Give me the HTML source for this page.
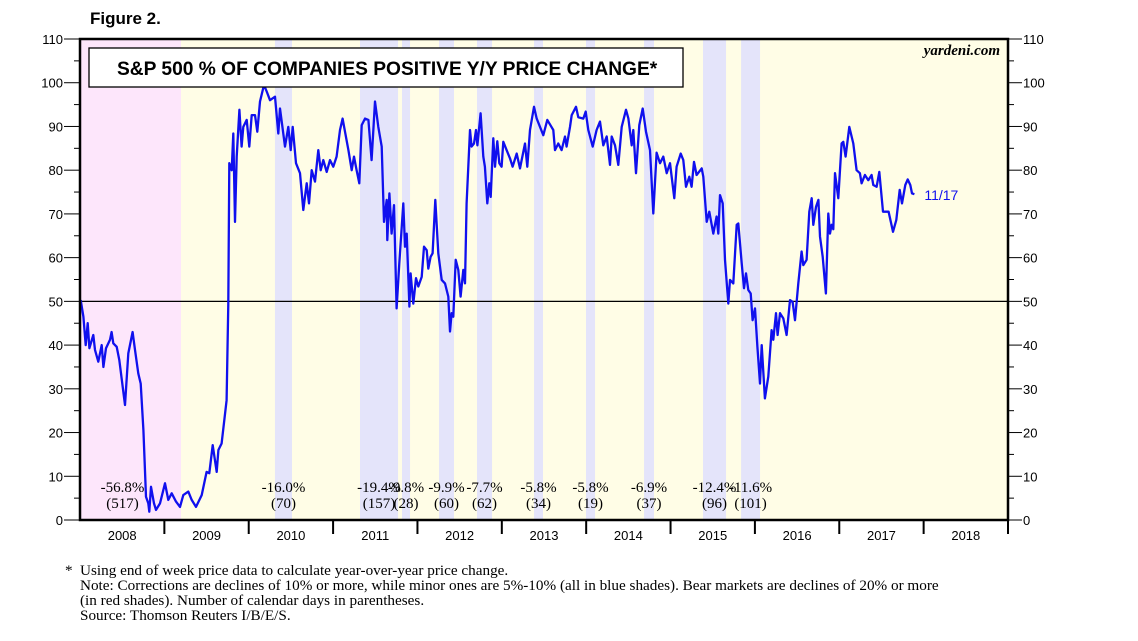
<!DOCTYPE html>
<html><head><meta charset="utf-8"><style>
body{margin:0;background:#fff;width:1138px;height:641px;overflow:hidden;font-family:"Liberation Sans",sans-serif}
.fn{position:absolute;left:80px;font-family:"Liberation Serif",serif;font-size:15.2px;color:#000;white-space:nowrap;line-height:15px}
</style></head><body>
<div style="position:absolute;left:90px;top:9px;font-weight:bold;font-size:17px">Figure 2.</div>
<svg id="chart" width="1138" height="560" style="position:absolute;left:0;top:0"></svg>
<div class="fn" style="left:65px;top:563px">*</div>
<div class="fn" style="top:563px">Using end of week price data to calculate year-over-year price change.</div>
<div class="fn" style="top:578px">Note: Corrections are declines of 10% or more, while minor ones are 5%-10% (all in blue shades). Bear markets are declines of 20% or more</div>
<div class="fn" style="top:593px">(in red shades). Number of calendar days in parentheses.</div>
<div class="fn" style="top:608px">Source: Thomson Reuters I/B/E/S.</div>
<script>
// data (dates as years since 2008)
const yearLabels=["2008","2009","2010","2011","2012","2013","2014","2015","2016","2017","2018"];
const yTicks=[0,10,20,30,40,50,60,70,80,90,100,110];
const bearStart=[0.0], bearEnd=[1.197];
const corrStart=[2.311,3.319,3.817,4.256,4.706,5.382,5.998,6.686,7.385,7.836];
const corrEnd=[2.513,3.770,3.912,4.433,4.884,5.488,6.105,6.804,7.658,8.061];
const corrPct=["-16.0%","-19.4%","-9.8%","-9.9%","-7.7%","-5.8%","-5.8%","-6.9%","-12.4%","-11.6%"];
const corrDays=["(70)","(157)","(28)","(60)","(62)","(34)","(19)","(37)","(96)","(101)"];
const bearPct=["-56.8%"], bearDays=["(517)"];
const dates=[0.008,0.040,0.067,0.091,0.111,0.158,0.178,0.217,0.257,0.277,0.308,0.356,0.375,0.395,0.435,0.466,0.533,0.573,0.624,0.652,0.691,0.719,0.751,0.782,0.810,0.822,0.842,0.877,0.901,0.948,1.008,1.047,1.087,1.138,1.185,1.225,1.284,1.324,1.375,1.442,1.501,1.533,1.573,1.620,1.640,1.679,1.738,1.758,1.770,1.798,1.817,1.837,1.857,1.889,1.916,1.936,1.976,2.007,2.035,2.074,2.102,2.134,2.181,2.213,2.252,2.311,2.351,2.371,2.430,2.469,2.497,2.521,2.560,2.608,2.647,2.687,2.714,2.746,2.786,2.825,2.853,2.884,2.924,2.963,3.003,3.042,3.082,3.113,3.141,3.181,3.220,3.248,3.279,3.311,3.339,3.378,3.418,3.457,3.497,3.536,3.576,3.603,3.635,3.643,3.667,3.694,3.722,3.753,3.785,3.832,3.852,3.872,3.904,3.919,3.951,3.983,4.010,4.050,4.077,4.109,4.129,4.156,4.180,4.212,4.247,4.287,4.326,4.366,4.386,4.405,4.425,4.453,4.484,4.512,4.544,4.563,4.583,4.623,4.642,4.670,4.694,4.710,4.749,4.781,4.800,4.828,4.852,4.868,4.899,4.919,4.947,4.970,4.998,5.018,5.057,5.097,5.128,5.176,5.215,5.275,5.302,5.334,5.381,5.413,5.492,5.539,5.610,5.630,5.670,5.709,5.749,5.768,5.808,5.828,5.879,5.907,5.966,5.994,6.025,6.077,6.124,6.164,6.203,6.243,6.282,6.302,6.342,6.381,6.421,6.472,6.500,6.539,6.559,6.591,6.630,6.670,6.709,6.756,6.796,6.835,6.875,6.914,6.954,6.993,7.045,7.072,7.120,7.151,7.183,7.222,7.250,7.278,7.309,7.369,7.388,7.428,7.459,7.507,7.546,7.566,7.586,7.618,7.645,7.685,7.705,7.744,7.784,7.803,7.843,7.871,7.894,7.922,7.950,7.973,8.001,8.029,8.060,8.080,8.119,8.159,8.198,8.218,8.250,8.269,8.297,8.337,8.376,8.416,8.447,8.475,8.514,8.554,8.574,8.613,8.645,8.673,8.692,8.724,8.752,8.771,8.803,8.842,8.870,8.890,8.909,8.929,8.949,8.988,9.028,9.048,9.075,9.119,9.166,9.205,9.245,9.265,9.304,9.344,9.383,9.403,9.443,9.474,9.518,9.585,9.637,9.676,9.716,9.743,9.783,9.811,9.842,9.862,9.890];
const values=[50.3,46.5,40,45,39.3,42.3,38.9,36.2,40,35,39.3,41.2,43,40.4,39.6,36.6,26.3,38.1,43,38.9,33.5,31.2,20.6,5.3,3.8,1.9,7.6,3.8,2.3,3.8,8.4,4.6,6.1,4.2,3,5.7,6.5,4.6,3,5.7,11,10.7,17.1,11,16,17.5,27.4,49.5,81.6,80,88.4,68.2,83.1,93.8,85.4,89.9,91.5,85.4,92.6,92.6,88.8,95.7,99.5,98,96,96.8,88.4,94.1,85.4,89.9,84.6,89.9,81.6,79.3,70.9,77,72.4,80,77.4,84.6,80,82.3,79.6,82.3,80.8,83.1,89.2,91.8,88.8,84.6,80,83.1,80,77,90.3,91.8,91.5,82.3,95.7,89.9,85.4,68.2,73.2,64,74.7,65.5,72,48.4,58.7,72.4,62.5,65.5,48.8,56.4,49.5,55.3,53.4,55.6,62.5,61.7,57.5,60.2,61,73.2,61,54.9,54.1,51.1,43.1,47.3,46.5,59.5,57.2,51.1,57.2,54.1,72.4,89.2,85.4,86.1,89.2,85.7,93,83.1,80.8,72.4,77,73.9,87.3,80.8,86.6,81.6,80.8,86.5,84.6,82.7,80.8,83.8,80.4,86.1,80.8,89.2,94.5,91.8,88,91.5,89.2,84.6,86.1,84.6,87.7,85.4,89.9,92.6,94.5,92.1,91.8,93.4,89.2,85.4,89.2,91.1,85.7,87.7,81.2,87.7,85.7,81.2,89.9,93.8,91.8,85.7,89.2,79.3,90.3,94.1,88.8,84.6,70.1,84,81.6,83.1,79.3,81.6,73.6,80.8,83.8,82.3,76.2,78.5,76.2,81.9,78.9,80.4,78.5,68.2,70.5,65.5,69.4,65.5,74.3,72.4,59.5,49.5,54.9,54.1,67.5,67.8,58.7,53,56.4,52.6,51.8,45.7,48.4,39.6,31.2,40,27.8,32.8,43.4,41.2,47.3,42.3,47.3,46.1,42.3,50.3,49.9,45.7,54.1,61.4,58.3,59.5,70.5,73.6,67.5,71.6,73.2,64.8,60.2,51.8,70.1,65.5,67.5,66.5,79.3,73.6,86.1,86.5,83.1,89.9,86.1,80,79.3,77,78.9,77.7,78.9,76.6,76.2,79.6,70.5,70.5,65.9,68.6,75.5,72.4,76.6,77.9,76.6,74.7,74.5];

const L=80,R=1008,T=39,B=520;
const X=t=>L+t*(R-L)/11, Y=v=>B-v*(B-T)/110;
const svg=document.getElementById('chart'),NS="http://www.w3.org/2000/svg";
function mk(tag,at,parent){const e=document.createElementNS(NS,tag);for(const k in at)e.setAttribute(k,at[k]);(parent||svg).appendChild(e);return e;}
let e;
e=mk('rect',{x:L,y:T,width:R-L,height:B-T,fill:'#fffde6'});


bearStart.forEach((s,i)=>{e=mk('rect',{x:X(s),y:T,width:X(bearEnd[i])-X(s),height:B-T,fill:'#fde6fb'});


const c=(X(s)+X(bearEnd[i]))/2-8;
e=mk('text',{x:c,y:492,'text-anchor':'middle','font-family':'Liberation Serif, serif','font-size':15});e.textContent=bearPct[i];


e=mk('text',{x:c,y:508,'text-anchor':'middle','font-family':'Liberation Serif, serif','font-size':15});e.textContent=bearDays[i];

});
corrStart.forEach((s,i)=>{e=mk('rect',{x:X(s),y:T,width:X(corrEnd[i])-X(s),height:B-T,fill:'#e4e4fa'});


const c=(X(s)+X(corrEnd[i]))/2;
e=mk('text',{x:c,y:492,'text-anchor':'middle','font-family':'Liberation Serif, serif','font-size':15});e.textContent=corrPct[i];


e=mk('text',{x:c,y:508,'text-anchor':'middle','font-family':'Liberation Serif, serif','font-size':15});e.textContent=corrDays[i];

});
e=mk('line',{x1:L,x2:R,y1:Y(50),y2:Y(50),stroke:'#000','stroke-width':1.2});


for(let v=0;v<=110;v+=5){const maj=v%10===0;
e=mk('line',{x1:L-(maj?16:6),x2:L,y1:Y(v),y2:Y(v),stroke:'#000','stroke-width':1});


e=mk('line',{x1:R,x2:R+(maj?14:6),y1:Y(v),y2:Y(v),stroke:'#000','stroke-width':1});

}
yTicks.forEach(v=>{e=mk('text',{x:L-17,y:Y(v)+5,'text-anchor':'end','font-size':13});e.textContent=v;


e=mk('text',{x:R+15,y:Y(v)+5,'font-size':13});e.textContent=v;

});
yearLabels.forEach((y,i)=>{e=mk('line',{x1:X(i+1),x2:X(i+1),y1:B,y2:B+14,stroke:'#000','stroke-width':2});


e=mk('text',{x:X(i+0.5),y:B+20,'text-anchor':'middle','font-size':13});e.textContent=y;

});
let d='';dates.forEach((t,i)=>{d+=(i?'L':'M')+X(t).toFixed(1)+','+Y(values[i]).toFixed(1);});
e=mk('path',{d:d,fill:'none',stroke:'#1010ee','stroke-width':2.3,'stroke-linejoin':'round'});


e=mk('text',{x:X(dates[dates.length-1])+10,y:Y(values[values.length-1])+6,'font-size':14,fill:'#1010ee'});e.textContent='11/17';


e=mk('rect',{x:L,y:T,width:R-L,height:B-T,fill:'none',stroke:'#000','stroke-width':2.5});


e=mk('rect',{x:89,y:48,width:594,height:39,fill:'#fff',stroke:'#000','stroke-width':1.3});


e=mk('text',{x:117,y:75,'font-size':19.2,'font-weight':'bold'});e.textContent='S&P 500 % OF COMPANIES POSITIVE Y/Y PRICE CHANGE*';


e=mk('text',{x:1000,y:55,'text-anchor':'end','font-family':'Liberation Serif, serif','font-style':'italic','font-weight':'bold','font-size':15});e.textContent='yardeni.com';


</script>
</body></html>
